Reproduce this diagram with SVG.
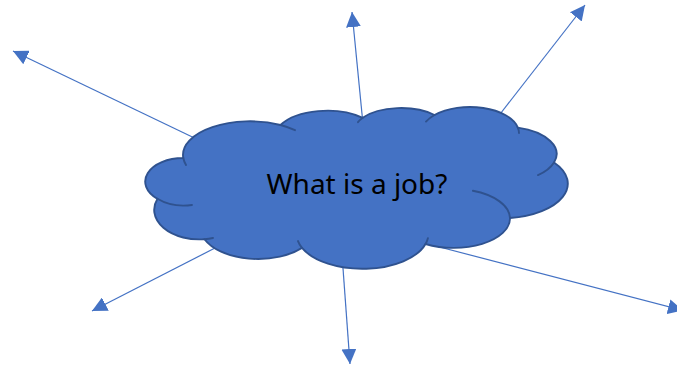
<svg xmlns="http://www.w3.org/2000/svg" width="677" height="367" viewBox="0 0 677 367">
  <style>
    .conn { stroke: #4472C4; stroke-width: 1.2; fill: none; marker-end: url(#ah); }
    .cloud { fill: #4472C4; stroke: #2F528F; stroke-width: 1.9; stroke-linejoin: round; }
    .inner { fill: none; stroke: #2F528F; stroke-width: 1.9; stroke-linecap: round; }
    .label { font-family: "Noto Sans", "Open Sans", sans-serif; font-size: 28px; fill: #000000; }
  </style>
  <defs>
    <marker id="ah" markerUnits="userSpaceOnUse" markerWidth="16" markerHeight="15" refX="15" refY="7.5" orient="auto">
      <path d="M0,0 L15,7.5 L0,15 Z" fill="#4472C4"/>
    </marker>
  </defs>
  <rect width="677" height="367" fill="#ffffff"/>
  <g id="connectors">
    <line class="conn" x1="196" y1="138.8" x2="13" y2="51"/>
    <line class="conn" x1="362.6" y1="120" x2="352" y2="12"/>
    <line class="conn" x1="500.5" y1="113.5" x2="585" y2="5"/>
    <line class="conn" x1="216" y1="247.5" x2="92" y2="311"/>
    <line class="conn" x1="342.8" y1="265.5" x2="350" y2="364"/>
    <line class="conn" x1="428" y1="244" x2="683" y2="310.5"/>
  </g>
  <g id="node-cloud">
    <path class="cloud" d="M183.3,158 A67,33.5 0 0 1 280.5,125 A53,27.3 0 0 1 362.7,117.8 A46,22 0 0 1 434.5,115 A49,26 0 0 1 517.8,127.6 A52,27.3 0 0 1 554,162.5 A66,34.6 0 0 1 510,218 A56.4,29.5 0 0 1 425.5,244 A65.8,34.6 0 0 1 302,247.9 A58,32 0 0 1 204.5,239.2 A45,29.5 0 0 1 157.5,198.8 A38,23.5 0 0 1 183.3,158 Z"/>
    <path class="inner" d="M192,205 A38,23.5 0 0 1 157.5,198.8 M213,238 A45,29.5 0 0 1 204.5,239.2 M302,247.9 A65.8,34.6 0 0 1 298,241.1 M427.9,238.2 A65.8,34.6 0 0 1 425.5,244 M472.9,190.8 A56.4,29.5 0 0 1 510,218 M554,162.5 A52,27.3 0 0 1 538,175.1 M517.8,127.6 A49,26 0 0 1 519,133 M426,121.6 A49,26 0 0 1 434.5,115 M358,122.2 A46,22 0 0 1 362.7,117.8 M280.5,125 A67,33.5 0 0 1 295,130.2 M186,164.9 A67,33.5 0 0 1 183.3,158"/>
    <text class="label" x="357" y="194" text-anchor="middle">What is a job?</text>
  </g>
</svg>
